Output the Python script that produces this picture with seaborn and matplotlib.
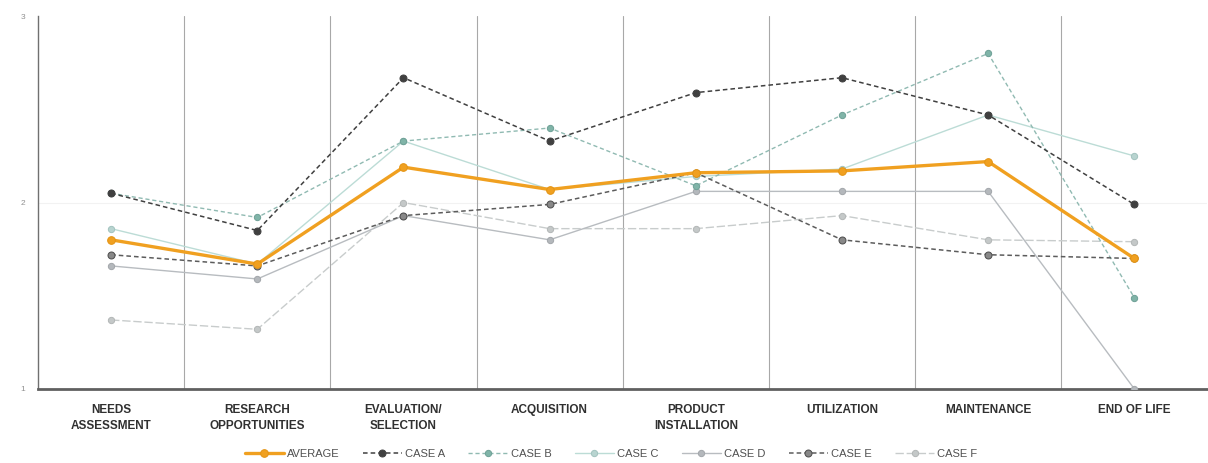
import matplotlib
matplotlib.use("Agg")
import matplotlib.pyplot as plt
import seaborn as sns
import pandas as pd

categories = ["NEEDS\nASSESSMENT", "RESEARCH\nOPPORTUNITIES", "EVALUATION/\nSELECTION",
              "ACQUISITION", "PRODUCT\nINSTALLATION", "UTILIZATION", "MAINTENANCE", "END OF LIFE"]

average = [1.80, 1.67, 2.19, 2.07, 2.16, 2.17, 2.22, 1.70]
case_a = [2.05, 1.85, 2.67, 2.33, 2.59, 2.67, 2.47, 1.99]
case_b = [2.05, 1.92, 2.33, 2.40, 2.09, 2.47, 2.80, 1.49]
case_c = [1.86, 1.67, 2.33, 2.07, 2.14, 2.18, 2.47, 2.25]
case_d = [1.66, 1.59, 1.93, 1.80, 2.06, 2.06, 2.06, 1.00]
case_e = [1.72, 1.66, 1.93, 1.99, 2.16, 1.80, 1.72, 1.70]
case_f = [1.37, 1.32, 2.00, 1.86, 1.86, 1.93, 1.80, 1.79]

y_ticks = [1, 2, 3]

series = [
    ("CASE F", case_f, dict(color="#c8cccc", lw=1.0, ls=(0, (6, 2)), marker="o", ms=4.5, mfc="#c4c8c8", mec="#b4b8b8")),
    ("CASE D", case_d, dict(color="#b8bcc0", lw=1.0, ls="-", marker="o", ms=4.5, mfc="#b4b8bc", mec="#a4a8ac")),
    ("CASE C", case_c, dict(color="#bcdcd6", lw=1.0, ls="-", marker="o", ms=4.5, mfc="#b8d4d0", mec="#a4c4c0")),
    ("CASE B", case_b, dict(color="#90bab2", lw=1.0, ls=(0, (3, 2)), marker="o", ms=4.5, mfc="#80b4a8", mec="#70a298")),
    ("CASE E", case_e, dict(color="#5c5c5c", lw=1.1, ls=(0, (3, 2)), marker="o", ms=5, mfc="#888888", mec="#505050")),
    ("CASE A", case_a, dict(color="#404040", lw=1.1, ls=(0, (3, 2)), marker="o", ms=5, mfc="#404040", mec="#404040")),
    ("AVERAGE", average, dict(color="#f0a020", lw=2.4, ls="-", marker="o", ms=5.5, mfc="#f0a020", mec="#e49414")),
]

sns.set_style("white")
plt.rcParams["font.family"] = ["Liberation Sans", "DejaVu Sans"]

fig = plt.figure(figsize=(12.08, 4.63), dpi=100)
ax = fig.add_axes([0.0315, 0.160, 0.968, 0.805])

xpos = list(range(len(categories)))
for name, vals, st in series:
    df = pd.DataFrame({"x": xpos, "y": vals})
    sns.lineplot(data=df, x="x", y="y", ax=ax, sort=False, label=name,
                 color=st["color"], linewidth=st["lw"], linestyle=st["ls"],
                 marker=st["marker"], markersize=st["ms"],
                 markerfacecolor=st["mfc"], markeredgecolor=st["mec"],
                 zorder=5 if name == "AVERAGE" else 3)

ax.set_xlim(-0.5, 7.5)
ax.set_ylim(1, 3)
ax.set_xticks(xpos)
ax.set_xticklabels(categories, fontsize=8.5, fontweight="bold", color="#303030", linespacing=1.45)
ax.set_yticks(y_ticks)
ax.set_yticklabels([str(t) for t in y_ticks], fontsize=6, color="#909090")
ax.tick_params(axis="x", length=0, pad=11)
ax.tick_params(axis="y", length=0, pad=9)
ax.set_xlabel("")
ax.set_ylabel("")

for b in [0.5, 1.5, 2.5, 3.5, 4.5, 5.5, 6.5]:
    ax.axvline(b, color="#a8a8a8", lw=0.8, zorder=1)
ax.axhline(2, color="#f2f2f2", lw=0.8, zorder=0)

for s in ["top", "right"]:
    ax.spines[s].set_visible(False)
ax.spines["left"].set_color("#707070")
ax.spines["left"].set_linewidth(1.0)
ax.spines["bottom"].set_color("#606060")
ax.spines["bottom"].set_linewidth(2.0)

handles, labels = ax.get_legend_handles_labels()
order = ["AVERAGE", "CASE A", "CASE B", "CASE C", "CASE D", "CASE E", "CASE F"]
hmap = dict(zip(labels, handles))
ax.legend([hmap[o] for o in order], order, loc="upper center", bbox_to_anchor=(0.49, -0.135),
          ncol=7, frameon=False, fontsize=8, labelcolor="#505050",
          handlelength=3.5, handletextpad=0.3, columnspacing=2.1)

fig.savefig("out.png", dpi=100)
